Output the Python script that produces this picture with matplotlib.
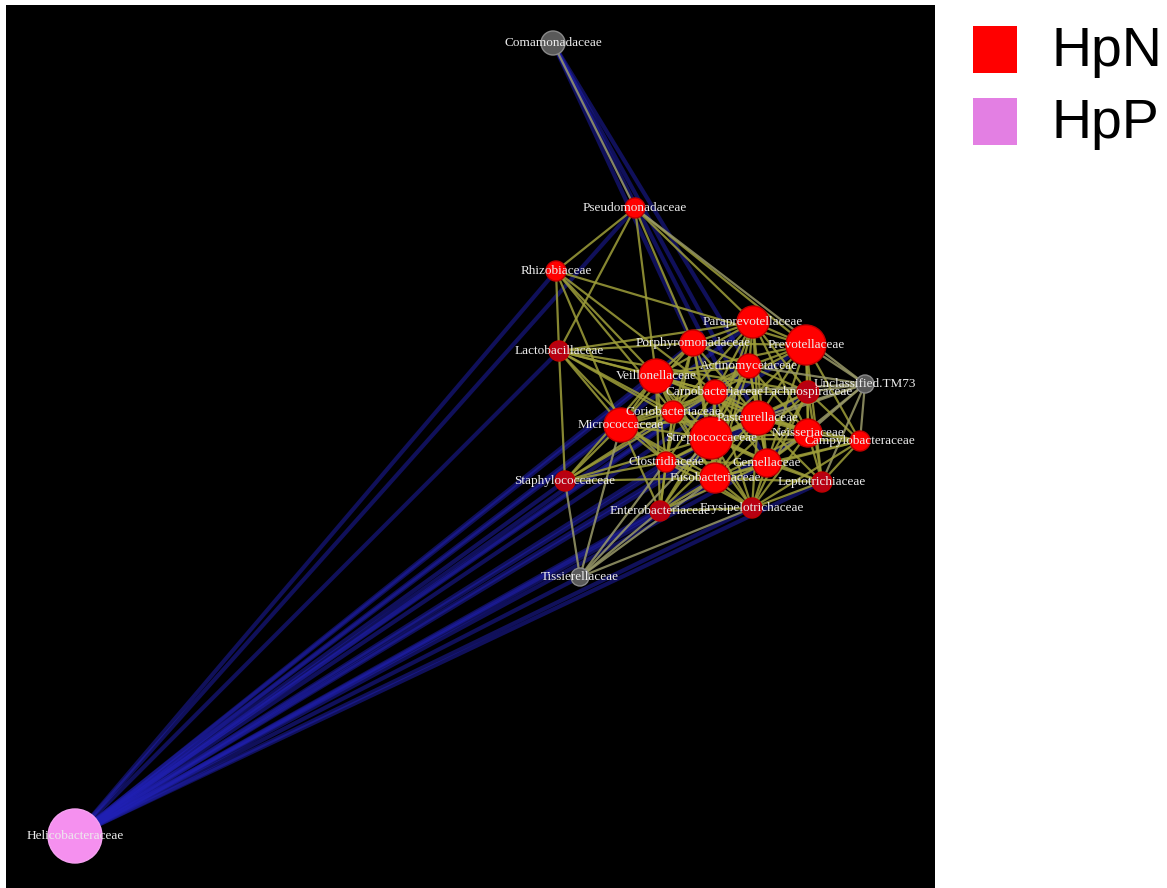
import matplotlib
matplotlib.use("Agg")
import matplotlib.pyplot as plt
from matplotlib.patches import Circle, Rectangle

# family-level taxa, layout coordinates from the network export
taxa = ["Comamonadaceae", "Pseudomonadaceae", "Rhizobiaceae", "Lactobacillaceae",
        "Paraprevotellaceae", "Prevotellaceae", "Porphyromonadaceae", "Actinomycetaceae",
        "Veillonellaceae", "Unclassified.TM73", "Carnobacteriaceae", "Lachnospiraceae",
        "Coriobacteriaceae", "Pasteurellaceae", "Micrococcaceae", "Streptococcaceae",
        "Neisseriaceae", "Campylobacteraceae", "Clostridiaceae", "Gemellaceae",
        "Fusobacteriaceae", "Leptotrichiaceae", "Enterobacteriaceae", "Erysipelotrichaceae",
        "Staphylococcaceae", "Tissierellaceae", "Helicobacteraceae"]
layout_x = [547, 629, 550, 553, 747, 800, 687, 743, 650, 859, 709, 802, 667, 752,
            615, 705, 802, 854, 660, 761, 709, 816, 654, 746, 559, 574, 69]
layout_y = [845, 680, 617, 537, 566, 543, 545, 522, 512, 504, 496, 496, 476, 470,
            463, 450, 455, 447, 426, 425, 410, 406, 377, 380, 407, 311, 52]
node_weight = [12, 10, 10, 10, 16, 20, 13, 12, 17, 9, 12, 11, 11, 17,
               17, 21, 14, 10, 10, 14, 15, 10, 10, 10, 10, 9, 27]
# enriched group: N = HpN, P = HpP, 0 = none
group = ["0", "N", "N", "N", "N", "N", "N", "N", "N", "0", "N", "N", "N", "N",
         "N", "N", "N", "N", "N", "N", "N", "N", "N", "N", "N", "0", "P"]

# positive correlations (source, targets)
positive_edges = [
    (0, [1]),
    (1, [2, 3, 4, 5, 6, 8, 9]),
    (2, [3, 5, 8, 10, 12, 14]),
    (3, [4, 6, 8, 10, 11, 12, 14, 15, 18, 24]),
    (4, [5, 6, 7, 8, 10, 11, 12, 13, 15, 16, 19, 20]),
    (5, [6, 7, 8, 9, 10, 11, 13, 15, 16, 17, 19, 21]),
    (6, [7, 8, 10, 12, 13, 14, 15, 18, 20]),
    (7, [8, 9, 10, 11, 12, 13, 14, 15, 16, 19, 20, 22]),
    (8, [10, 12, 13, 14, 15, 16, 18, 20, 22, 23, 24]),
    (9, [10, 11, 13, 15, 16, 17, 19, 21]),
    (10, [11, 12, 13, 14, 15, 16, 18, 19, 20, 23, 24]),
    (11, [13, 15, 16, 17, 19, 20, 21, 23]),
    (12, [13, 14, 15, 18, 19, 20, 22, 24]),
    (13, [14, 15, 16, 17, 18, 19, 20, 21, 22, 23]),
    (14, [15, 18, 20, 22, 23, 24, 25]),
    (15, [16, 17, 18, 19, 20, 21, 22, 23, 24, 25]),
    (16, [17, 19, 20, 21, 23]),
    (17, [19, 20, 21, 23]),
    (18, [19, 20, 22, 23, 24, 25]),
    (19, [20, 21, 22, 23]),
    (20, [21, 22, 23, 24, 25]),
    (21, [23]),
    (22, [23, 25]),
    (23, [25]),
    (24, [25]),
]
# negative correlations
negative_edges = [
    (0, [7, 10, 13, 19]),
    (26, [1, 2, 3, 4, 5, 6, 7, 8, 10, 11, 12, 13, 14, 15, 16, 18,
          19, 20, 21, 22, 23, 24, 25]),
]

legend_labels = ["HpN", "HpP"]

fill = {"N": "#ff0000", "P": "#f590ef", "0": "#5a5a5a"}
rim = {"N": "#c00000", "P": "#f5a0f0", "0": "#8a8a8a"}
darker = {"Lactobacillaceae", "Lachnospiraceae", "Leptotrichiaceae",
          "Enterobacteriaceae", "Staphylococcaceae", "Erysipelotrichaceae"}

fig = plt.figure(figsize=(11.67, 8.88), dpi=100)
fig.patch.set_facecolor("white")
ax = fig.add_axes([6 / 1167, 0, 929 / 1167, 883 / 888])
ax.set_facecolor("black")
ax.set_xlim(0, 929)
ax.set_ylim(0, 883)
ax.set_xticks([])
ax.set_yticks([])
for s in ax.spines.values():
    s.set_visible(False)

# negative edges underneath
for src, targets in negative_edges:
    for t in targets:
        ax.plot([layout_x[src], layout_x[t]], [layout_y[src], layout_y[t]],
                color="#2020b4", lw=3.0, alpha=0.5, solid_capstyle="round", zorder=1)

for src, targets in positive_edges:
    for t in targets:
        gray_end = group[src] == "0" or group[t] == "0"
        c = "#9a9a6a" if gray_end else "#9e9e3a"
        ax.plot([layout_x[src], layout_x[t]], [layout_y[src], layout_y[t]],
                color=c, lw=1.6, alpha=0.85, zorder=2)

for i, name in enumerate(taxa):
    g = group[i]
    fc = "#b80012" if name in darker else fill[g]
    ax.add_patch(Circle((layout_x[i], layout_y[i]), node_weight[i], facecolor=fc,
                        edgecolor=rim[g], lw=1.0, zorder=3))

for i, name in enumerate(taxa):
    ax.text(layout_x[i], layout_y[i], name, ha="center", va="center",
            fontsize=9.5, family="Liberation Serif", color="#ececec", zorder=4)

# legend boxes on the right
legend_colors = ["#ff0000", "#e37fe3"]
for k, lab in enumerate(legend_labels):
    y0 = 888 - 73 - k * 72
    fig.patches.append(Rectangle((973 / 1167, y0 / 888), 44 / 1167, 47 / 888,
                                 transform=fig.transFigure, facecolor=legend_colors[k],
                                 edgecolor="none"))
    fig.text(1051 / 1167, (y0 + 21) / 888, lab, ha="left", va="center",
             fontsize=40, family="Liberation Sans", color="black")

fig.savefig("out.png", dpi=100, facecolor="white")
